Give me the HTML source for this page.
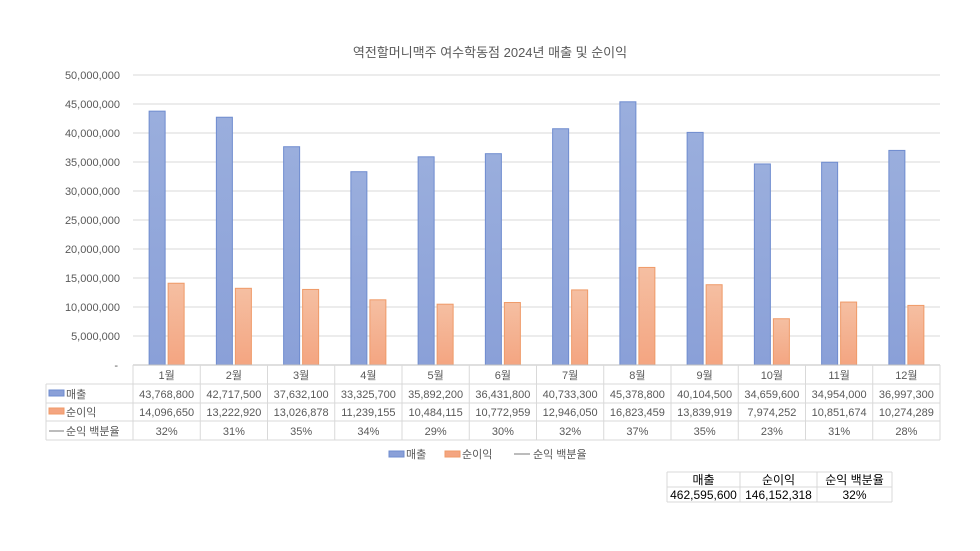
<!DOCTYPE html>
<html><head><meta charset="utf-8">
<style>
html,body{margin:0;padding:0;background:#fff;width:980px;height:551px;overflow:hidden}
svg text{font-family:"Liberation Sans","Noto Sans CJK KR",sans-serif;fill:#595959}
</style></head>
<body>
<svg id="c" width="980" height="551" xmlns="http://www.w3.org/2000/svg">
<defs>
<linearGradient id="gb" x1="0" y1="0" x2="0" y2="1"><stop offset="0" stop-color="#9aaedd"/><stop offset="1" stop-color="#8aa0d8"/></linearGradient>
<linearGradient id="go" x1="0" y1="0" x2="0" y2="1"><stop offset="0" stop-color="#f5bfa2"/><stop offset="1" stop-color="#f4a581"/></linearGradient>
</defs>
</svg>
<script>
const s=document.getElementById('c');
let h='';
const x0=133,x1=940,y0=365,pxM=5.8,cw=(x1-x0)/12;
h+='<text x="490" y="57" text-anchor="middle" font-size="13">역전할머니맥주 여수학동점 2024년 매출 및 순이익</text>';
for(let i=0;i<=10;i++){const y=y0-i*29;
 if(i>0)h+=`<line x1="${x0}" x2="${x1}" y1="${y}" y2="${y}" stroke="#d9d9d9"/>`;
 const v=i==0?'-':(i*5000000).toLocaleString('en-US');
 h+=`<text x="${i==0?118:120}" y="${y+4}" text-anchor="end" font-size="11">${v}</text>`;}
const rev=[43768800,42717500,37632100,33325700,35892200,36431800,40733300,45378800,40104500,34659600,34954000,36997300];
const np=[14096650,13222920,13026878,11239155,10484115,10772959,12946050,16823459,13839919,7974252,10851674,10274289];
const pc=['32%','31%','35%','34%','29%','30%','32%','37%','35%','23%','31%','28%'];
for(let i=0;i<12;i++){const c=x0+cw*(i+0.5);
 const hb=rev[i]/1e6*pxM, ho=np[i]/1e6*pxM;
 h+=`<rect x="${c-17.5}" y="${y0-hb}" width="16" height="${hb}" fill="url(#gb)" stroke="#6f8ccf" stroke-width="1"/>`;
 h+=`<rect x="${c+1.5}" y="${y0-ho}" width="16" height="${ho}" fill="url(#go)" stroke="#ef9a68" stroke-width="1"/>`;}
// table
const rows=[365,384,403,421,440];
h+=`<line x1="${x0}" x2="${x1}" y1="365" y2="365" stroke="#bfbfbf"/>`;
for(let r=1;r<5;r++)h+=`<line x1="46" x2="${x1}" y1="${rows[r]}" y2="${rows[r]}" stroke="#d9d9d9"/>`;
h+=`<line x1="46" x2="46" y1="384" y2="440" stroke="#d9d9d9"/>`;
for(let i=0;i<=12;i++){const x=x0+cw*i;h+=`<line x1="${x}" x2="${x}" y1="365" y2="440" stroke="#d9d9d9"/>`;}
for(let i=0;i<12;i++){const c=x0+cw*(i+0.5);
 h+=`<text x="${c}" y="379" text-anchor="middle" font-size="11">${i+1}월</text>`;
 h+=`<text x="${c}" y="398" text-anchor="middle" font-size="11">${rev[i].toLocaleString('en-US')}</text>`;
 h+=`<text x="${c}" y="416" text-anchor="middle" font-size="11">${np[i].toLocaleString('en-US')}</text>`;
 h+=`<text x="${c}" y="435" text-anchor="middle" font-size="11">${pc[i]}</text>`;}
h+=`<rect x="49" y="390" width="15" height="6" fill="#8aa0d8" stroke="#6f8ccf"/><text x="66" y="398" font-size="11">매출</text>`;
h+=`<rect x="49" y="408" width="15" height="6" fill="#f4a581" stroke="#ef9a68"/><text x="66" y="416" font-size="11">순이익</text>`;
h+=`<line x1="49" x2="64" y1="431" y2="431" stroke="#a5a5a5" stroke-width="1.5"/><text x="66" y="435" font-size="11">순익 백분율</text>`;
// legend
h+=`<rect x="389" y="451" width="15" height="6" fill="#8aa0d8" stroke="#6f8ccf"/><text x="406" y="458" font-size="11">매출</text>`;
h+=`<rect x="445" y="451" width="15" height="6" fill="#f4a581" stroke="#ef9a68"/><text x="462" y="458" font-size="11">순이익</text>`;
h+=`<line x1="514" x2="530" y1="454" y2="454" stroke="#a5a5a5" stroke-width="1.5"/><text x="533" y="458" font-size="11">순익 백분율</text>`;
// summary
const sx=[667,740,817,892];
[472,487,502].forEach(y=>h+=`<line x1="667" x2="892" y1="${y}" y2="${y}" stroke="#d9d9d9"/>`);
sx.forEach(x=>h+=`<line x1="${x}" x2="${x}" y1="472" y2="502" stroke="#d9d9d9"/>`);
const st=[['매출','462,595,600'],['순이익','146,152,318'],['순익 백분율','32%']];
for(let i=0;i<3;i++){const c=(sx[i]+sx[i+1])/2;
 h+=`<text x="${c}" y="484" text-anchor="middle" font-size="12" style="fill:#000">${st[i][0]}</text>`;
 h+=`<text x="${c}" y="499" text-anchor="middle" font-size="12" style="fill:#000">${st[i][1]}</text>`;}
s.insertAdjacentHTML('beforeend',h);
</script>
</body></html>
